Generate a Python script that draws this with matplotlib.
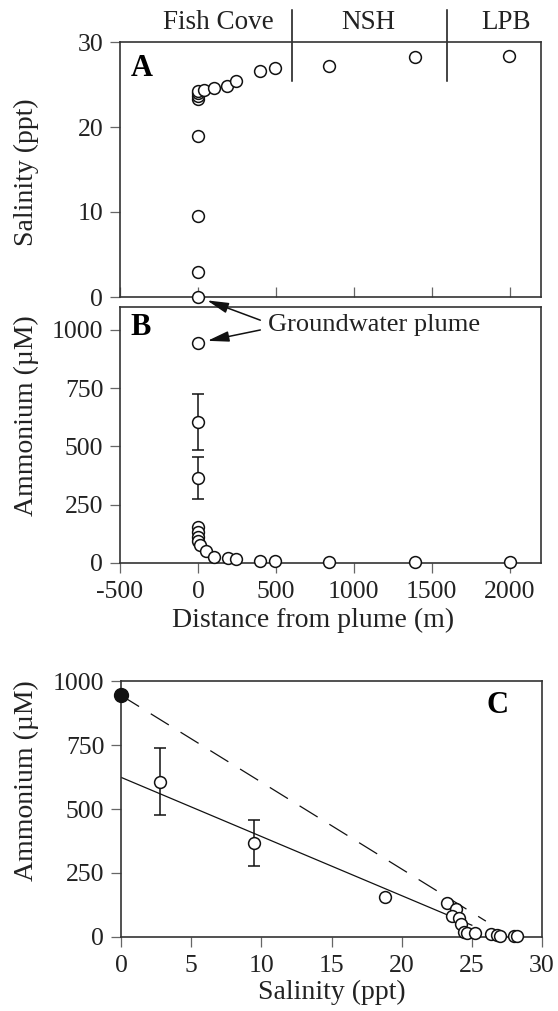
import matplotlib
matplotlib.use('Agg')
import matplotlib.pyplot as plt

plt.rcParams['font.family'] = ['Liberation Serif', 'DejaVu Serif']
plt.rcParams['axes.unicode_minus'] = False

# panel A: salinity along the transect
dist_a = [0, 0, 0, 0, 0, 0, 0, 0, 38, 102, 188, 245, 396, 496, 843, 1390, 1992]
sal_a = [0, 2.9, 9.5, 19.0, 23.3, 23.6, 24.0, 24.2, 24.4, 24.6, 24.8, 25.4,
         26.6, 27.0, 27.2, 28.2, 28.4]

# panel B: ammonium along the transect
dist_b = [0, 0, 0, 0, 0, 0, 0, 10, 51, 102, 194, 247, 400, 494, 843, 1390, 2000]
amm_b = [945, 605, 365, 155, 133, 109, 95, 76, 50, 23, 21, 16, 9, 7, 3, 3, 3]
err_dist_b = [0, 0]
err_amm_b = [605, 365]
err_b = [120, 90]

# site boundaries and names
site_edges = [600, 1600]
site_names = ['Fish Cove', 'NSH', 'LPB']
site_pos = [133, 1090, 1977]

# panel C: ammonium vs salinity
sal_c = [18.8, 23.2, 23.9, 23.6, 24.1, 24.2, 24.45, 24.65, 25.2, 26.4, 26.8,
         27.0, 28.0, 28.2]
amm_c = [154, 131, 110, 81, 72, 50, 18, 15, 15, 10, 8, 4, 3, 3]
err_sal_c = [2.8, 9.45]
err_amm_c = [607, 366]
err_c = [130, 90]
gw_sal = [0]
gw_amm = [945]
fit_sal = [0, 25.0]
fit_amm = [624, 45]
mix_sal = [0, 26.0]
mix_amm = [945, 61]

W, H = 558, 1011
fig = plt.figure(figsize=(W / 100, H / 100), dpi=100)

def axes_px(left, top, right, bottom):
    return fig.add_axes([left / W, 1 - bottom / H, (right - left) / W, (bottom - top) / H])

ax_a = axes_px(120, 42, 541, 297)
ax_b = axes_px(120, 306.7, 541, 562.7)
ax_c = axes_px(121, 681.3, 542, 936.7)

spine_col = '#333333'
tick_col = '#666666'
for ax in (ax_a, ax_b, ax_c):
    for s in ax.spines.values():
        s.set_color(spine_col)
        s.set_linewidth(1.2)
    ax.tick_params(axis='both', direction='out', length=7, width=0.9,
                   color=tick_col, labelsize=18.5, pad=5, labelcolor='#222222')

mk = dict(marker='o', markersize=8.5, markerfacecolor='white',
          markeredgecolor='#111111', markeredgewidth=1.1, linestyle='none')
lab = dict(fontsize=20, color='#222222')

# ---- A
ax_a.plot(dist_a, sal_a, clip_on=False, zorder=5, **mk)
ax_a.set_xlim(-500, 2200)
ax_a.set_ylim(0, 30)
ax_a.set_yticks([0, 10, 20, 30])
ax_a.set_xticks([-500, 0, 500, 1000, 1500, 2000])
ax_a.tick_params(axis='x', direction='in', labelbottom=False)
ax_a.set_ylabel('Salinity (ppt)', va='center', **lab)
ax_a.yaxis.set_label_coords(-0.222, 0.49)
ax_a.text(0.052, 0.898, 'A', transform=ax_a.transAxes, fontsize=22,
          fontweight='bold', ha='center', va='center')
for e in site_edges:
    ax_a.plot([e, e], [25.4, 33.8], color='#111111', lw=1.1, clip_on=False)
for name, p in zip(site_names, site_pos):
    ax_a.text(p, 32.3, name, fontsize=19.5, ha='center', va='center', color='#222222')

# ---- B
ax_b.errorbar(err_dist_b, err_amm_b, yerr=err_b, fmt='none', ecolor='#111111',
              elinewidth=1.1, capsize=4.5, capthick=1.1, zorder=3)
ax_b.plot(dist_b, amm_b, clip_on=False, zorder=5, **mk)
ax_b.set_xlim(-500, 2200)
ax_b.set_ylim(0, 1100)
ax_b.set_yticks([0, 250, 500, 750, 1000])
ax_b.set_xticks([-500, 0, 500, 1000, 1500, 2000])
ax_b.tick_params(axis='x', pad=6)
ax_b.set_xlabel('Distance from plume (m)', va='center', **lab)
ax_b.xaxis.set_label_coords(0.458, -0.224)
ax_b.set_ylabel('Ammonium (\u00b5M)', va='center', **lab)
ax_b.yaxis.set_label_coords(-0.222, 0.573)
ax_b.text(0.049, 0.918, 'B', transform=ax_b.transAxes, fontsize=22,
          fontweight='bold', ha='center', va='center')

ax_b.text(450, 1021, 'Groundwater plume', fontsize=19, ha='left', va='center',
          color='#222222')
arrow = dict(arrowstyle='-|>,head_length=0.65,head_width=0.16', mutation_scale=20,
             color='#111111', lw=1.1, shrinkA=0, shrinkB=7)
ax_b.annotate('', xy=(dist_a[0], sal_a[0]), xycoords=ax_a.transData,
              xytext=(400, 1042), textcoords=ax_b.transData,
              arrowprops=arrow, annotation_clip=False)
ax_b.annotate('', xy=(dist_b[0], amm_b[0]), xycoords=ax_b.transData,
              xytext=(400, 1000), textcoords=ax_b.transData,
              arrowprops=arrow, annotation_clip=False)

# ---- C
ax_c.plot(fit_sal, fit_amm, color='#111111', lw=0.9, zorder=2)
ax_c.plot(mix_sal, mix_amm, color='#111111', lw=0.9, linestyle=(0, (17, 11)), zorder=2)
ax_c.errorbar(err_sal_c, err_amm_c, yerr=err_c, fmt='none', ecolor='#111111',
              elinewidth=1.1, capsize=4.5, capthick=1.1, zorder=3)
ax_c.plot(err_sal_c, err_amm_c, clip_on=False, zorder=5, **mk)
ax_c.plot(sal_c, amm_c, clip_on=False, zorder=5, **mk)
ax_c.plot(gw_sal, gw_amm, marker='o', markersize=10, color='#111111',
          linestyle='none', clip_on=False, zorder=6)
ax_c.set_xlim(0, 30)
ax_c.set_ylim(0, 1000)
ax_c.set_xticks([0, 5, 10, 15, 20, 25, 30])
ax_c.set_yticks([0, 250, 500, 750, 1000])
ax_c.tick_params(axis='x', pad=6)
ax_c.set_xlabel('Salinity (ppt)', va='center', **lab)
ax_c.xaxis.set_label_coords(0.50, -0.22)
ax_c.set_ylabel('Ammonium (\u00b5M)', va='center', **lab)
ax_c.yaxis.set_label_coords(-0.224, 0.61)
ax_c.text(0.895, 0.907, 'C', transform=ax_c.transAxes, fontsize=22,
          fontweight='bold', ha='center', va='center')

fig.savefig('out.png', dpi=100)
